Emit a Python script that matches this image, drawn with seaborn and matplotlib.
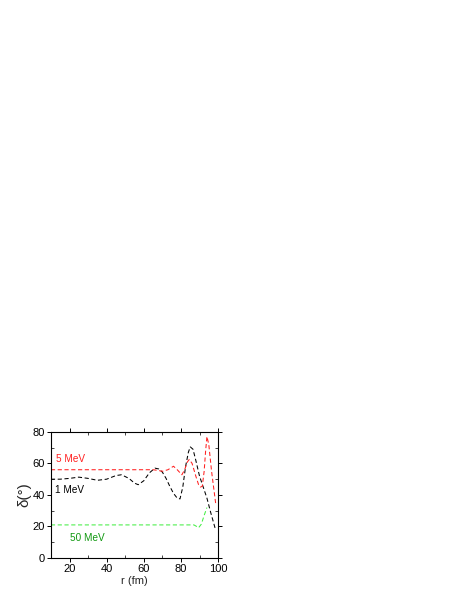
import numpy as np
import pandas as pd
import matplotlib
matplotlib.use("Agg")
import matplotlib.pyplot as plt
import seaborn as sns
from matplotlib.ticker import MultipleLocator

# phase shift vs radius for three energies
r_1mev = [10, 15, 20, 25, 30, 35, 40, 45, 48, 52, 55, 57, 60, 63, 66, 68, 70, 72, 74, 76, 78, 79.5,
          81, 82.5, 84, 85, 86.5, 88, 90, 92, 94, 96, 98.7]
d_1mev = [50, 50, 50.5, 51.3, 50.5, 49.3, 50, 52.3, 52.8, 50.5, 47.5, 46.5, 49, 54, 57, 56.5, 54.5, 50.5, 45.5, 41, 38, 37.5,
          45, 58, 67, 70.5, 69, 62, 52, 45, 38, 29, 17.7]

r_5mev = [10, 20, 30, 40, 50, 60, 65, 68, 70, 73, 76, 78, 80.5, 82, 83.5, 84.5, 86, 88, 89.5, 90.5, 91.5, 92.5, 93.3, 94,
          95, 96.5, 98.7]
d_5mev = [56, 56, 56, 56, 56, 56, 56, 55.5, 55, 56, 58.2, 56, 52.8, 56, 61, 62.5, 60, 52, 46.5, 45, 45.5, 55, 68, 77,
          72, 55, 34.7]

r_50mev = [10, 20, 30, 40, 50, 60, 70, 80, 87, 88.5, 89.5, 91, 92.5, 94]
d_50mev = [21, 21, 21, 21, 21, 21, 21, 21, 21, 20, 19.2, 21.5, 27, 32]

sns.set_theme(style="ticks")
plt.rcParams['font.family'] = ['Liberation Sans', 'DejaVu Sans']

fig = plt.figure(figsize=(4.63, 5.99), dpi=100)
ax = fig.add_axes([0.110, 0.0684, 0.361, 0.2106])

dash = (0, (4, 2.5))
sns.lineplot(x=r_1mev, y=d_1mev, ax=ax, color="black", lw=0.75, linestyle=dash)
sns.lineplot(x=r_5mev, y=d_5mev, ax=ax, color="#ff2020", lw=0.75, linestyle=dash)
sns.lineplot(x=r_50mev, y=d_50mev, ax=ax, color="#44ee44", lw=0.75, linestyle=dash)

ax.text(12.9, 62.5, "5 MeV", color="#ff2020", fontsize=7.2, va="center")
ax.text(12.3, 43, "1 MeV", color="black", fontsize=7.2, va="center")
ax.text(20, 13, "50 MeV", color="#119911", fontsize=7.2, va="center")

ax.set_xlim(10, 100)
ax.set_ylim(0, 80)
ax.xaxis.set_major_locator(MultipleLocator(20))
ax.xaxis.set_minor_locator(MultipleLocator(10))
ax.yaxis.set_major_locator(MultipleLocator(20))
ax.yaxis.set_minor_locator(MultipleLocator(10))
ax.tick_params(which="major", direction="out", length=3, width=0.7, labelsize=8, pad=1.5,
               top=True, right=True, colors="black")
ax.tick_params(which="minor", direction="in", length=2, width=0.6, top=True, right=True)
for s in ax.spines.values():
    s.set_linewidth(0.8)
    s.set_color("black")

ax.set_xlabel("r (fm)", fontsize=8, labelpad=1)
ax.set_ylabel("δ(°)", fontsize=11, labelpad=1)

fig.savefig("out.png", dpi=100)
